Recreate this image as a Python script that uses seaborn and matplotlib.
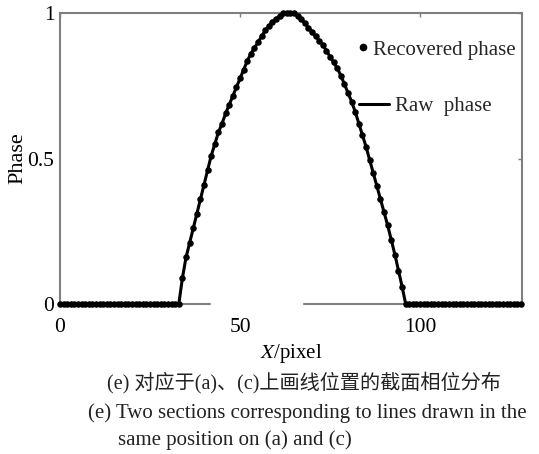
import matplotlib
matplotlib.use("Agg")
import matplotlib.pyplot as plt
from matplotlib.lines import Line2D
import seaborn as sns
import pandas as pd

# Cross-section phase profile, one value per pixel column (X = 0 .. 128)
phase = [
    0.00, 0.00, 0.00, 0.00, 0.00, 0.00, 0.00, 0.00, 0.00, 0.00,
    0.00, 0.00, 0.00, 0.00, 0.00, 0.00, 0.00, 0.00, 0.00, 0.00,
    0.00, 0.00, 0.00, 0.00, 0.00, 0.00, 0.00, 0.00, 0.00, 0.00,
    0.00, 0.00, 0.00,
    0.00, 0.09, 0.16, 0.21, 0.26, 0.31, 0.36, 0.41, 0.46, 0.51,
    0.55, 0.59, 0.62, 0.655, 0.685, 0.715, 0.745, 0.775, 0.805, 0.835,
    0.86, 0.88, 0.90, 0.92, 0.94, 0.955, 0.97, 0.98, 0.99, 1.00,
    1.00, 1.00, 1.00,
    0.99, 0.98, 0.965, 0.95, 0.935, 0.92, 0.905, 0.89, 0.87, 0.85,
    0.83, 0.81, 0.785, 0.755, 0.725, 0.695, 0.66, 0.62, 0.58, 0.54,
    0.495, 0.45, 0.405, 0.36, 0.315, 0.27, 0.22, 0.17, 0.115, 0.06,
    0.00,
    0.00, 0.00, 0.00, 0.00, 0.00, 0.00, 0.00, 0.00, 0.00, 0.00,
    0.00, 0.00, 0.00, 0.00, 0.00, 0.00, 0.00, 0.00, 0.00, 0.00,
    0.00, 0.00, 0.00, 0.00, 0.00, 0.00, 0.00, 0.00, 0.00, 0.00,
    0.00, 0.00,
]
x_pixel = list(range(len(phase)))

x_ticks = [0, 50, 100]
x_tick_labels = ["0", "50", "100"]
y_ticks = [0, 0.5, 1]
y_tick_labels = ["0", "0.5", "1"]

series_labels = ["Recovered phase", "Raw  phase"]
caption_cn = "(e) 对应于(a)、(c)上画线位置的截面相位分布"
caption_en1 = "(e) Two sections corresponding to lines drawn in the"
caption_en2 = "same position on (a) and (c)"

sns.set_theme(style="white")
plt.rcParams["font.family"] = ["Liberation Serif", "Noto Sans CJK SC"]
plt.rcParams["mathtext.fontset"] = "stix"

df = pd.DataFrame({"x": x_pixel, "phase": phase})

fig = plt.figure(figsize=(5.39, 4.54), dpi=100)
ax = fig.add_axes([60 / 539, 1 - 304 / 454, 462 / 539, 291 / 454])

gray = "#7f7f7f"
sns.lineplot(data=df, x="x", y="phase", ax=ax, color="black", lw=2.2,
             clip_on=False, zorder=3)
sns.scatterplot(data=df, x="x", y="phase", ax=ax, color="black", s=22,
                linewidth=0, clip_on=False, zorder=4, legend=False)

ax.set_xlim(0, 128.3)
ax.set_ylim(0, 1)
ax.set_xticks(x_ticks)
ax.set_xticklabels(x_tick_labels)
ax.set_yticks(y_ticks)
ax.set_yticklabels(y_tick_labels)
ax.tick_params(axis="both", direction="in", length=3, width=1, color=gray,
               labelsize=15.5, labelcolor="black", top=True, right=True,
               bottom=False, pad=4)
ax.tick_params(axis="x", pad=10)

for side in ["left", "right", "top"]:
    ax.spines[side].set_color(gray)
    ax.spines[side].set_linewidth(1.5)
ax.spines["bottom"].set_visible(False)
# bottom axis line, interrupted below the peak
for a, b in [(0.0, 0.325), (0.528, 1.0)]:
    ax.plot([a, b], [0, 0], transform=ax.transAxes, color=gray, lw=1.5,
            clip_on=False, zorder=2)

ax.set_xlabel(r"$\mathit{X}$/pixel", fontsize=15, color="black", labelpad=4)
ax.set_ylabel("Phase", fontsize=16, color="black", labelpad=0)

h_rec = Line2D([], [], marker="o", ls="none", color="black", ms=4.5)
h_raw = Line2D([], [], color="black", lw=2.2)
leg1 = ax.legend([h_rec], [series_labels[0]], frameon=False, fontsize=15,
                 handlelength=0.4, handletextpad=0.3, borderpad=0,
                 borderaxespad=0, loc="center left",
                 bbox_to_anchor=(0.647, 0.873))
ax.add_artist(leg1)
ax.legend([h_raw], [series_labels[1]], frameon=False, fontsize=15,
          handlelength=1.45, handletextpad=0.3, borderpad=0,
          borderaxespad=0, loc="center left", bbox_to_anchor=(0.647, 0.680))

fig.text(107 / 539, 1 - 383 / 454, caption_cn, fontsize=14.5, va="center",
         ha="left", color="#222222")
fig.text(88 / 539, 1 - 413 / 454, caption_en1, fontsize=15, va="center",
         ha="left", color="#222222")
fig.text(118 / 539, 1 - 440 / 454, caption_en2, fontsize=15, va="center",
         ha="left", color="#222222")

fig.savefig("out.png", dpi=100)
